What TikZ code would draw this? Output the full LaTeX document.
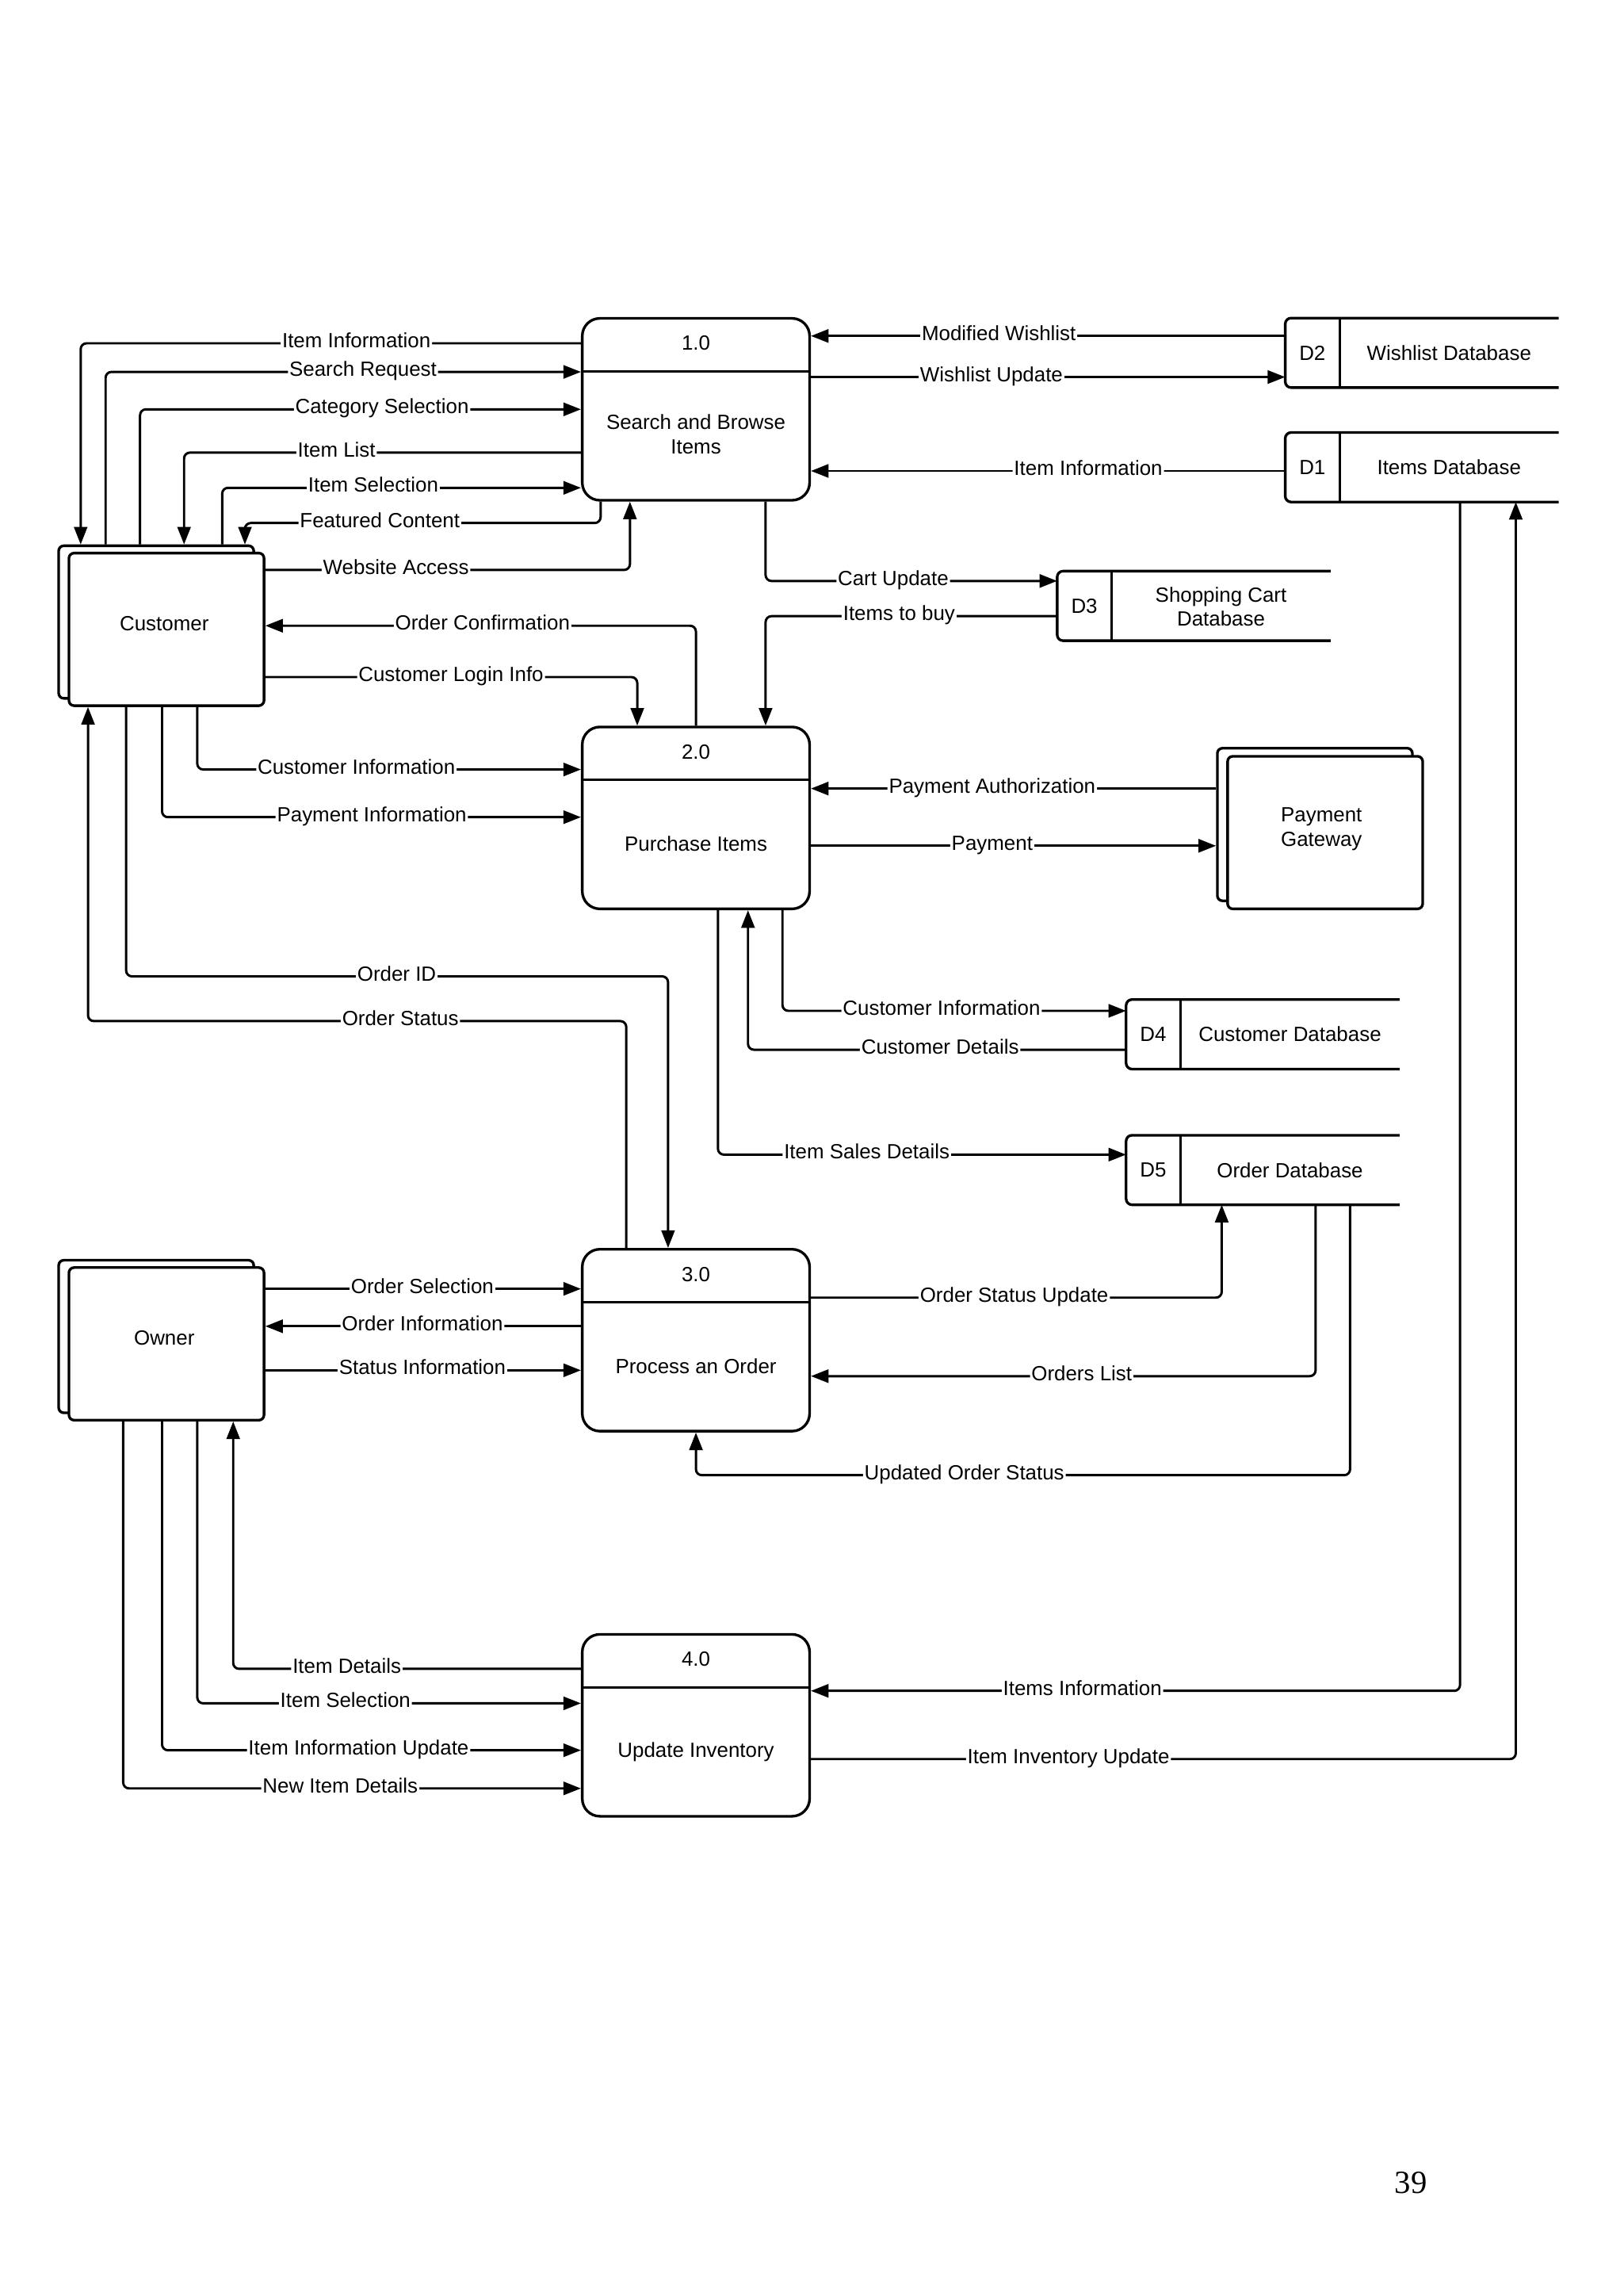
\documentclass[tikz,border=0pt]{standalone}
\usepackage{fontspec}
\setmainfont{Liberation Sans}
\newfontfamily\pnumfont{Liberation Serif}
\usetikzlibrary{arrows.meta,calc}
\begin{document}
\begin{tikzpicture}[x=1pt,y=-1pt,
  font=\fontsize{14}{16.5}\selectfont,
  proc/.style={draw, line width=1.8pt, rounded corners=12pt, minimum width=155pt, minimum height=124pt, inner sep=0pt},
  ent/.style={draw, fill=white, line width=1.8pt, rounded corners=3.5pt, minimum width=133pt, minimum height=104pt, inner sep=0pt},
  store/.style={minimum width=186pt, minimum height=47pt, inner sep=0pt},
  storeline/.style={line width=1.8pt, rounded corners=4pt},
  flow/.style={line width=1.6pt, rounded corners=4pt, -{Triangle[length=12pt,width=9pt]}},
  plain/.style={line width=1.6pt},
  lab/.style={fill=white, inner sep=1pt, text height=9.5pt, text depth=3.5pt},
  txt/.style={align=center, inner sep=0pt}
]
\fill[white] (0,0) rectangle (1107,1565);
\useasboundingbox (0,0) rectangle (1107,1565);

% processes
\node[proc] (p1) at (474.5,279) {};
\node[txt] (p1n) at (474.5,234) {1.0};
\node[txt] (p1t) at (474.5,296) {Search and Browse\\Items};
\node[proc] (p2) at (474.5,557.5) {};
\node[txt] (p2n) at (474.5,512.5) {2.0};
\node[txt] (p2t) at (474.5,575) {Purchase Items};
\node[proc] (p3) at (474.5,913.5) {};
\node[txt] (p3n) at (474.5,868.5) {3.0};
\node[txt] (p3t) at (474.5,931) {Process an Order};
\node[proc] (p4) at (474.5,1176) {};
\node[txt] (p4n) at (474.5,1131) {4.0};
\node[txt] (p4t) at (474.5,1194) {Update Inventory};
\foreach \p in {p1,p2,p3,p4}{
  \draw[plain] ($(\p.north west)+(0,37)$) -- ($(\p.north east)+(0,37)$);
}

% external entities
\node[ent] (cb) at (106.5,424) {};
\node[ent] (cf) at (113.5,429) {};
\node[txt] (ct) at (112,425) {Customer};
\node[ent] (ob) at (106.5,911) {};
\node[ent] (of) at (113.5,916) {};
\node[txt] (ot) at (112,912) {Owner};
\node[ent] (pgb) at (896.5,562) {};
\node[ent] (pgf) at (903.5,567.5) {};
\node[txt] (pgt) at (901,565) {Payment\\Gateway};

% data stores
\node[store] (d2) at (969.5,240.5) {};
\node[store] (d1) at (969.5,318.5) {};
\node[store] (d3) at (814,413) {};
\node[store] (d4) at (861,705) {};
\node[store] (d5) at (861,797.5) {};
\foreach \s in {d1,d2,d3,d4,d5}{
  \draw[storeline] (\s.north east) -- (\s.north west) -- (\s.south west) -- (\s.south east);
  \draw[plain] ($(\s.north west)+(37,0)$) -- ($(\s.south west)+(37,0)$);
}
\node[txt] (d2i) at ($(d2.west)+(18.5,0)$) {D2};
\node[txt] (d2t) at ($(d2.center)+(18.5,0)$) {Wishlist Database};
\node[txt] (d1i) at ($(d1.west)+(18.5,0)$) {D1};
\node[txt] (d1t) at ($(d1.center)+(18.5,0)$) {Items Database};
\node[txt] (d3i) at ($(d3.west)+(18.5,0)$) {D3};
\node[txt] (d3t) at ($(d3.center)+(18.5,0.5)$) {Shopping Cart\\Database};
\node[txt] (d4i) at ($(d4.west)+(18.5,0)$) {D4};
\node[txt] (d4t) at ($(d4.center)+(18.5,0)$) {Customer Database};
\node[txt] (d5i) at ($(d5.west)+(18.5,0)$) {D5};
\node[txt] (d5t) at ($(d5.center)+(18.5,0)$) {Order Database};

% flows: Customer <-> 1.0
\draw[flow] (p1.west |- 0,234) -- (55,234) -- (55,0 |- cb.north) node[lab] at (243,234) {Item Information};
\draw[flow] (72,0 |- cb.north) -- (72,253.5) -- (p1.west |- 0,253.5) node[lab] at (247.5,253.5) {Search Request};
\draw[flow] (95.5,0 |- cb.north) -- (95.5,279) -- (p1.west |- 0,279) node[lab] at (260.5,279) {Category Selection};
\draw[flow] (p1.west |- 0,308.5) -- (125.5,308.5) -- (125.5,0 |- cb.north) node[lab] at (229.5,308.5) {Item List};
\draw[flow] (151.5,0 |- cb.north) -- (151.5,332.5) -- (p1.west |- 0,332.5) node[lab] at (254.5,332.5) {Item Selection};
\draw[flow] (409.5,0 |- p1.south) -- (409.5,356.5) -- (167,356.5) -- (167,0 |- cb.north) node[lab] at (259,356.5) {Featured Content};
\draw[flow] (cf.east |- 0,388.5) -- (429.5,388.5) -- (429.5,0 |- p1.south) node[lab] at (270,388.5) {Website Access};

% Customer <-> 2.0
\draw[flow] (p2.north) -- (p2.north |- 0,426.5) -- (cf.east |- 0,426.5) node[lab] at (329,426.5) {Order Confirmation};
\draw[flow] (cf.east |- 0,461.5) -- (434.5,461.5) -- (434.5,0 |- p2.north) node[lab] at (307.5,461.5) {Customer Login Info};
\draw[flow] (134.5,0 |- cf.south) -- (134.5,524.5) -- (p2.west |- 0,524.5) node[lab] at (243,524.5) {Customer Information};
\draw[flow] (110.5,0 |- cf.south) -- (110.5,557) -- (p2.west |- 0,557) node[lab] at (253.5,557) {Payment Information};

% Customer <-> 3.0
\draw[flow] (86,0 |- cf.south) -- (86,665.5) -- (455.5,665.5) -- (455.5,0 |- p3.north) node[lab] at (270.5,665.5) {Order ID};
\draw[flow] (427,0 |- p3.north) -- (427,696) -- (60,696) -- (60,0 |- cf.south) node[lab] at (273,696) {Order Status};

% 1.0 <-> stores
\draw[flow] (522,0 |- p1.south) -- (522,396) -- (d3.west |- 0,396) node[lab] at (609,396) {Cart Update};
\draw[flow] (d3.west |- 0,420) -- (522,420) -- (522,0 |- p2.north) node[lab] at (613,420) {Items to buy};
\draw[flow] (d2.west |- 0,229) -- (p1.east |- 0,229) node[lab] at (681,229) {Modified Wishlist};
\draw[flow] (p1.east |- 0,257) -- (d2.west |- 0,257) node[lab] at (676,257) {Wishlist Update};
\draw[flow] (d1.west |- 0,321) -- (p1.east |- 0,321) node[lab] at (742,321) {Item Information};

% 2.0 <-> gateway, stores
\draw[flow] (pgb.west |- 0,537.5) -- (p2.east |- 0,537.5) node[lab] at (676.5,537.5) {Payment Authorization};
\draw[flow] (p2.east |- 0,576.5) -- (pgb.west |- 0,576.5) node[lab] at (676.5,576.5) {Payment};
\draw[flow] (533.5,0 |- p2.south) -- (533.5,689) -- (d4.west |- 0,689) node[lab] at (642,689) {Customer Information};
\draw[flow] (d4.west |- 0,715.5) -- (510,715.5) -- (510,0 |- p2.south) node[lab] at (641,715.5) {Customer Details};
\draw[flow] (489.5,0 |- p2.south) -- (489.5,787) -- (d5.west |- 0,787) node[lab] at (591,787) {Item Sales Details};

% Owner <-> 3.0
\draw[flow] (of.east |- 0,878.5) -- (p3.west |- 0,878.5) node[lab] at (288,878.5) {Order Selection};
\draw[flow] (p3.west |- 0,904) -- (of.east |- 0,904) node[lab] at (288,904) {Order Information};
\draw[flow] (of.east |- 0,934) -- (p3.west |- 0,934) node[lab] at (288,934) {Status Information};

% 3.0 <-> D5
\draw[flow] (p3.east |- 0,884.5) -- (833,884.5) -- (833,0 |- d5.south) node[lab] at (691.5,884.5) {Order Status Update};
\draw[flow] (897,0 |- d5.south) -- (897,938) -- (p3.east |- 0,938) node[lab] at (737.5,938) {Orders List};
\draw[flow] (920.5,0 |- d5.south) -- (920.5,1005.5) -- (p3.south |- 0,1005.5) -- (p3.south) node[lab] at (657.5,1005.5) {Updated Order Status};

% 4.0 <-> D1
\draw[flow] (995.5,0 |- d1.south) -- (995.5,1152.5) -- (p4.east |- 0,1152.5) node[lab] at (738,1152.5) {Items Information};
\draw[flow] (p4.east |- 0,1199) -- (1033.5,1199) -- (1033.5,0 |- d1.south) node[lab] at (728.5,1199) {Item Inventory Update};

% Owner <-> 4.0
\draw[flow] (p4.west |- 0,1137.5) -- (159,1137.5) -- (159,0 |- of.south) node[lab] at (236.5,1137.5) {Item Details};
\draw[flow] (134.5,0 |- of.south) -- (134.5,1161) -- (p4.west |- 0,1161) node[lab] at (235.5,1161) {Item Selection};
\draw[flow] (110.5,0 |- of.south) -- (110.5,1193) -- (p4.west |- 0,1193) node[lab] at (244.5,1193) {Item Information Update};
\draw[flow] (84,0 |- of.south) -- (84,1219) -- (p4.west |- 0,1219) node[lab] at (232,1219) {New Item Details};

% page number
\node[font=\pnumfont\fontsize{22}{26}\selectfont, inner sep=0pt] (pnum) at (962,1488) {39};
\end{tikzpicture}
\end{document}
